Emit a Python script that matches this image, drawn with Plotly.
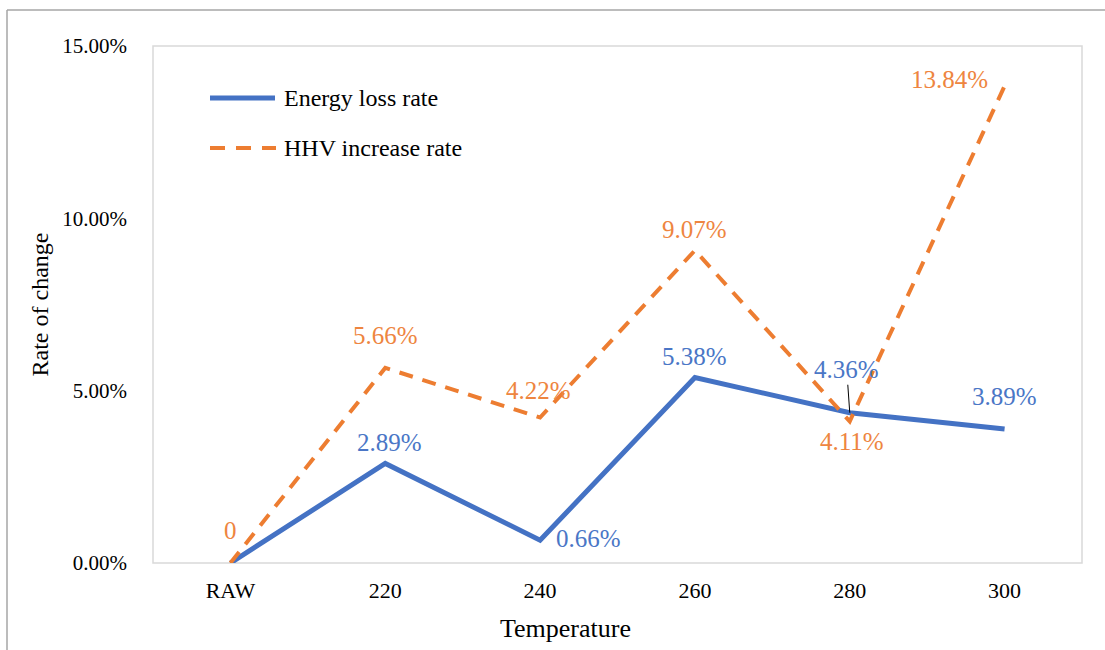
import plotly.graph_objects as go

categories = ["RAW", "220", "240", "260", "280", "300"]
energy_loss = [0.0, 2.89, 0.66, 5.38, 4.36, 3.89]   # percent
hhv_increase = [0.0, 5.66, 4.22, 9.07, 4.11, 13.84]  # percent
energy_labels = [None, "2.89%", "0.66%", "5.38%", "4.36%", "3.89%"]
hhv_labels = ["0", "5.66%", "4.22%", "9.07%", "4.11%", "13.84%"]
y_ticks = [0, 5, 10, 15]
series_names = ["Energy loss rate", "HHV increase rate"]

BLUE = "#4472C4"
ORANGE = "#ED7D31"
BLUE_TXT = "#4A76C6"
ORANGE_TXT = "#EE8540"
FONT = "Liberation Serif"
LBL = 25

L, R, T, B = 153, 23, 46, 87
PW, PH = 1105 - L - R, 650 - T - B


def px(x):
    return (x - L) / PW


def py(y):
    return (650 - B - y) / PH


# label pixel offsets (dx, dy up)
energy_off = [None, (4, 21), (48, 2), (0, 21), None, (0, 32)]
hhv_off = [(0, 33), (0, 32), (-2, 27), (0, 21), (2, -20), (-55, 6)]

fig = go.Figure()
fig.add_trace(go.Scatter(
    x=categories, y=[v / 100 for v in energy_loss], mode="lines",
    name=series_names[0], showlegend=False,
    line=dict(color=BLUE, width=5), hoverinfo="skip"))
fig.add_trace(go.Scatter(
    x=categories, y=[v / 100 for v in hhv_increase], mode="lines",
    name=series_names[1], showlegend=False,
    line=dict(color=ORANGE, width=4, dash="14px,10px"), hoverinfo="skip"))

ann = []
for i, (v, t) in enumerate(zip(energy_loss, energy_labels)):
    if t is None:
        continue
    if energy_off[i] is None:
        ann.append(dict(x=i, y=v / 100, text=t, showarrow=True, arrowhead=0,
                        arrowwidth=1, arrowcolor="black", ax=-3, ay=-43,
                        standoff=0, font=dict(family=FONT, size=LBL, color=BLUE_TXT)))
    else:
        dx, dy = energy_off[i]
        ann.append(dict(x=i, y=v / 100, text=t, showarrow=False,
                        xshift=dx, yshift=dy,
                        font=dict(family=FONT, size=LBL, color=BLUE_TXT)))
for i, (v, t) in enumerate(zip(hhv_increase, hhv_labels)):
    dx, dy = hhv_off[i]
    ann.append(dict(x=i, y=v / 100, text=t, showarrow=False,
                    xshift=dx, yshift=dy,
                    font=dict(family=FONT, size=LBL, color=ORANGE_TXT)))

# axis title (x)
ann.append(dict(xref="paper", yref="paper", x=px(565), y=py(628),
                text="Temperature", showarrow=False, xanchor="center", yanchor="middle",
                font=dict(family=FONT, size=26, color="black")))

# custom legend
legend_y = [98, 148]
for name, ly in zip(series_names, legend_y):
    ann.append(dict(xref="paper", yref="paper", x=px(282), y=py(ly), text=name,
                    showarrow=False, xanchor="left", yanchor="middle",
                    font=dict(family=FONT, size=24, color="black")))

shapes = [
    dict(type="rect", xref="paper", yref="paper", x0=0, x1=1, y0=0, y1=1,
         line=dict(color="#D9D9D9", width=1.5), layer="below"),
    dict(type="line", xref="paper", yref="paper", x0=px(7), x1=px(1110),
         y0=py(10), y1=py(10), line=dict(color="#A6A6A6", width=1.5)),
    dict(type="line", xref="paper", yref="paper", x0=px(7), x1=px(7),
         y0=py(10), y1=py(660), line=dict(color="#A6A6A6", width=1.5)),
    dict(type="line", xref="paper", yref="paper", x0=px(210), x1=px(275),
         y0=py(legend_y[0]), y1=py(legend_y[0]), line=dict(color=BLUE, width=5)),
    dict(type="line", xref="paper", yref="paper", x0=px(210), x1=px(276),
         y0=py(legend_y[1]), y1=py(legend_y[1]),
         line=dict(color=ORANGE, width=4, dash="15px,11px")),
]

fig.update_layout(
    width=1105, height=650,
    margin=dict(l=L, r=R, t=T, b=B),
    paper_bgcolor="white", plot_bgcolor="white",
    font=dict(family=FONT, size=22, color="black"),
    showlegend=False,
    annotations=ann,
    shapes=shapes,
)
fig.update_xaxes(type="category", range=[-0.5, 5.5], showgrid=False, zeroline=False,
                 showline=False, ticks="", tickfont=dict(family=FONT, size=22, color="black"),
                 ticklabelstandoff=12)
fig.update_yaxes(range=[0, 0.15], tickvals=[t / 100 for t in y_ticks], tickformat=".2%",
                 showgrid=False, zeroline=False, showline=False, ticks="",
                 tickfont=dict(family=FONT, size=21, color="black"), ticklabelstandoff=25,
                 title=dict(text="Rate of change", font=dict(family=FONT, size=24, color="black"),
                            standoff=6))
fig.write_html("out.html")
